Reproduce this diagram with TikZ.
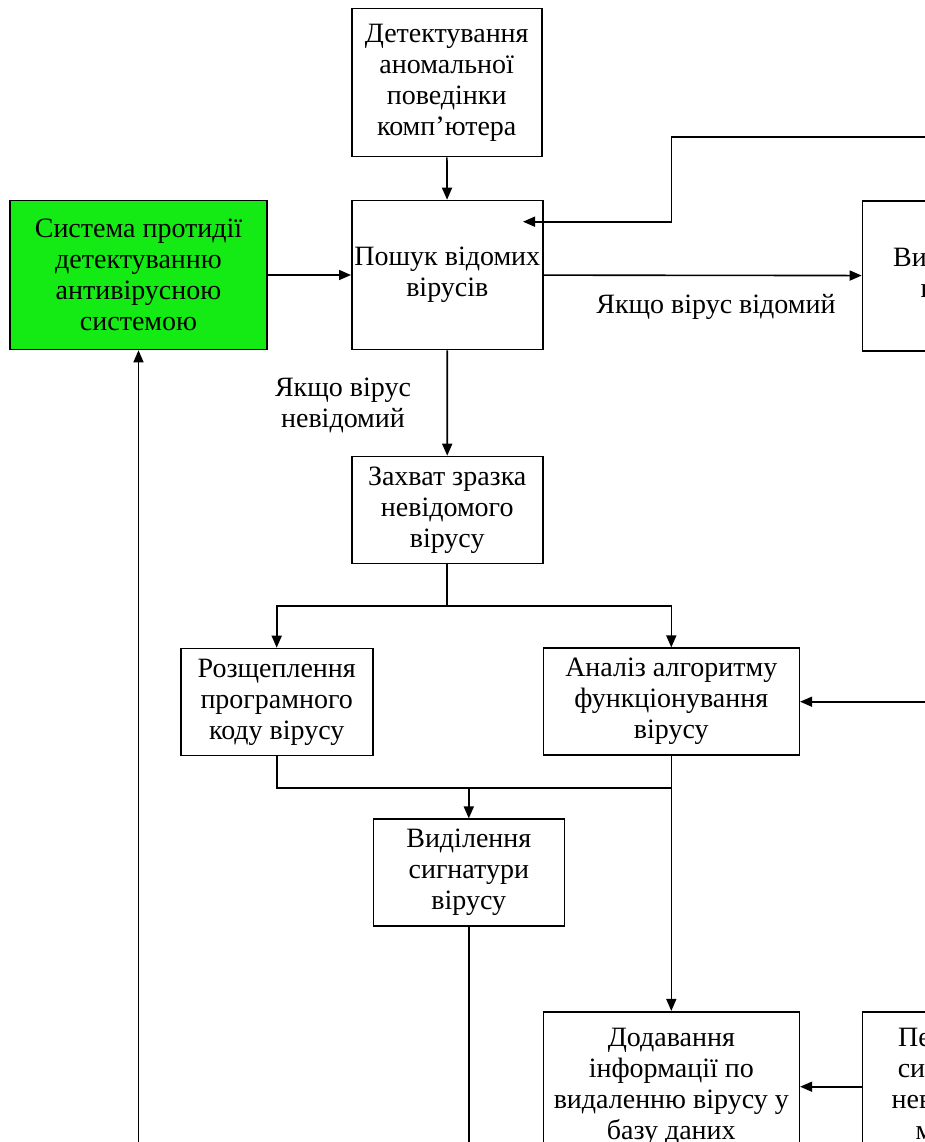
\documentclass[tikz,border=0pt]{standalone}
\usepackage{fontspec}
\setmainfont{Liberation Serif}
\usetikzlibrary{arrows.meta}
\definecolor{boxgreen}{RGB}{20,235,20}

\begin{document}
\begin{tikzpicture}[x=1pt,y=-1pt,line width=1.6pt,>={Triangle[length=12pt,width=10pt]},
    block/.style={draw,align=center,inner sep=0pt,font=\fontsize{28}{31}\selectfont},
    cond/.style={align=center,inner sep=0pt,font=\fontsize{28}{31}\selectfont}]
    \useasboundingbox (0,0) rectangle (925,1142);
    \clip (0,0) rectangle (925,1142);

    \node[block,minimum width=190,minimum height=148] (detect) at (446.7,82.5) {Детектування\\аномальної\\поведінки\\комп’ютера};
    \node[block,fill=boxgreen,minimum width=257,minimum height=149] (counter) at (138.5,275) {Система протидії\\детектуванню\\антивірусною\\системою};
    \node[block,minimum width=191,minimum height=149] (search) at (447.3,275) {Пошук відомих\\вірусів};
    \node[block,minimum width=191,minimum height=150] (remove) at (958,275.7) {Видалення\\вірусу};
    \node[block,minimum width=191,minimum height=107] (capture) at (447.2,510) {Захват зразка\\невідомого\\вірусу};
    \node[block,minimum width=192,minimum height=107] (split) at (276.7,702) {Розщеплення\\програмного\\коду вірусу};
    \node[block,minimum width=256,minimum height=107] (analysis) at (671.3,701.7) {Аналіз алгоритму\\функціонування\\вірусу};
    \node[block,minimum width=191,minimum height=107] (signature) at (468.8,872.7) {Виділення\\сигнатури\\вірусу};
    \node[block,minimum width=256,minimum height=150] (database) at (671.3,1086.7) {Додавання\\інформації по\\видаленню вірусу у\\базу даних};
    \node[block,minimum width=191,minimum height=150] (check) at (958,1086.7) {Перевірка\\сигнатури\\невідомого\\модуля};

    \node[cond,anchor=base] (known) at (716,313) {Якщо вірус відомий};
    \node[cond] (unknown) at (343,405) {Якщо вірус\\невідомий};

    \coordinate (feedback) at (960,137);
    \coordinate (searchin) at (523,221.7);
    \coordinate (fork) at (447.2,606);
    \coordinate (join) at (468.8,788);
    \coordinate (sigend) at (468.8,1160);
    \coordinate (loopend) at (138.5,1160);
    \coordinate (analysisin) at (960,701.7);

    \draw[->] (detect) -- (search);
    \draw[->] (counter) -- (search);
    \draw[->] (search) -- (remove);
    \draw[->] (feedback) -| (searchin -| analysis) -- (searchin);
    \draw[->] (search) -- (capture);
    \draw (capture) -- (fork);
    \draw[->] (fork) -| (split);
    \draw[->] (fork) -| (analysis);
    \draw[->] (analysisin) -- (analysis);
    \draw (split) |- (analysis |- join);
    \draw[->] (join) -- (signature);
    \draw[->] (analysis) -- (database);
    \draw (signature) -- (sigend);
    \draw[->] (check) -- (database);
    \draw[->] (loopend) -- (counter);
\end{tikzpicture}
\end{document}
